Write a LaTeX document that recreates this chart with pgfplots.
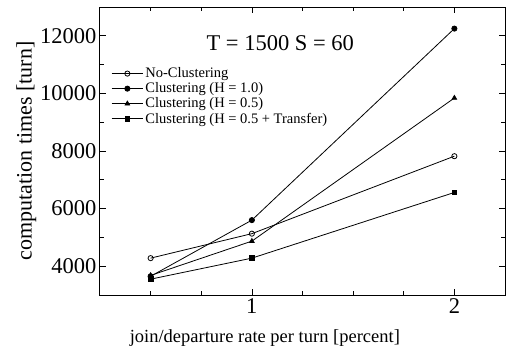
\documentclass[border=0pt]{standalone}
\usepackage{pgfplots}
\pgfplotsset{compat=1.18}
\usepackage{fontspec}
\setmainfont{Liberation Serif}
\begin{document}
\begin{tikzpicture}
\begin{axis}[
  name=ax,
  scale only axis,
  width=405pt, height=288pt,
  xmin=0.25, xmax=2.25,
  ymin=3000, ymax=13000,
  xtick={1,2},
  minor xtick={0.5,0.75,1.25,1.5,1.75},
  ytick={4000,6000,8000,10000,12000},
  minor ytick={5000,7000,9000,11000},
  tick align=inside,
  major tick length=6pt, minor tick length=4pt,
  axis line style={line width=1pt},
  every tick/.style={black, line width=0.7pt},
  /pgf/number format/assume math mode=true,
  /pgf/number format/1000 sep={},
  scaled y ticks=false,
  tick label style={font=\fontsize{22.5}{24}\selectfont},
  xlabel={join/departure rate per turn [percent]},
  ylabel={computation times [turn]},
  xlabel style={font=\fontsize{18.5}{20}\selectfont, at={(axis description cs:0.407,0)}, anchor=north, yshift=-31pt},
  ylabel style={font=\fontsize{22}{24}\selectfont, yshift=-3pt},
  legend style={draw=none, fill=none, at={(axis description cs:0.025,0.80)}, anchor=north west,
    font=\fontsize{14.5}{15}\selectfont, row sep=-0.5pt, inner sep=1pt},
  legend cell align=left,
  legend image code/.code={\draw[mark repeat=2,mark phase=2] plot coordinates {(0cm,0cm)(0.55cm,0cm)(1.1cm,0cm)};},
  every axis plot/.append style={black, line width=0.8pt, mark size=2.6pt},
  clip=false,
]
\addplot[mark=o, mark options={fill=white}] coordinates {(0.5,4280) (1,5130) (2,7820)};
\addlegendentry{No-Clustering}
\addplot[mark=*] coordinates {(0.5,3650) (1,5600) (2,12250)};
\addlegendentry{Clustering (H = 1.0)}
\addplot[mark=triangle*] coordinates {(0.5,3680) (1,4870) (2,9840)};
\addlegendentry{Clustering (H = 0.5)}
\addplot[mark=square*, mark size=2.4pt] coordinates {(0.5,3550) (1,4280) (2,6560)};
\addlegendentry{Clustering (H = 0.5 + Transfer)}
\node[font=\fontsize{22.5}{24}\selectfont] at (axis cs:1.14,11740) {T = 1500 S = 60};
\end{axis}
\pgfresetboundingbox
\path ([shift={(-100pt,-54pt)}]ax.south west) rectangle ([shift={(7pt,7pt)}]ax.north east);
\end{tikzpicture}
\end{document}
